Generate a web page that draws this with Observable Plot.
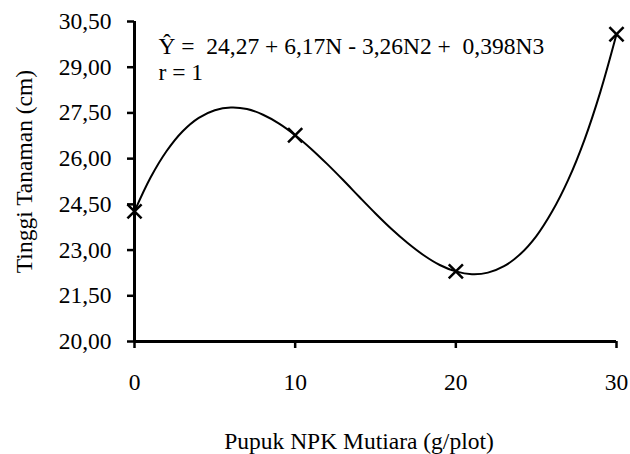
<!DOCTYPE html>
<html><head><meta charset="utf-8">
<script src="https://cdn.jsdelivr.net/npm/d3@7"></script>
<script src="https://cdn.jsdelivr.net/npm/@observablehq/plot@0.6"></script>
<style>
html,body{margin:0;padding:0;background:#fff}
svg text{font-family:"Liberation Serif","Times New Roman",serif !important; white-space:pre;}
</style>
</head><body><div id="chart"></div>
<script>
const dosis = [0, 10, 20, 30];
const tinggi = [24.27, 26.77, 22.30, 30.08];
const kurvaX = [0,1,2,3,4,5,6,7,8,9,10,11,12,13,14,15,16,17,18,19,20,21,22,23,24,25,26,27,28,29,30];
const kurvaY = [24.27,25.38,26.25,26.90,27.34,27.59,27.68,27.63,27.44,27.15,26.77,26.32,25.82,25.29,24.74,24.20,23.69,23.23,22.83,22.51,22.30,22.21,22.26,22.47,22.86,23.45,24.27,25.31,26.61,28.20,30.08];
const yTicks = [20, 21.5, 23, 24.5, 26, 27.5, 29, 30.5];
const xTicks = [0, 10, 20, 30];
const persamaan = "Ŷ =  24,27 + 6,17N - 3,26N2 +  0,398N3";
const koefisien = "r = 1";
const judulX = "Pupuk NPK Mutiara (g/plot)";
const judulY = "Tinggi Tanaman (cm)";

const titik = dosis.map((x, i) => ({x, y: tinggi[i]}));
const kurva = kurvaX.map((x, i) => ({x, y: kurvaY[i]}));
const fmt = d => d.toFixed(2).replace(".", ",");
const serif = "Liberation Serif";
const fs = 23.5;

const chart = Plot.plot({
  width: 630, height: 454,
  marginLeft: 134, marginRight: 14, marginTop: 21, marginBottom: 113,
  style: {fontFamily: "'Liberation Serif', 'Times New Roman', serif", fontSize: fs + "px", color: "#000", background: "#fff"},
  x: {domain: [0, 30]},
  y: {domain: [20, 30.5]},
  marks: [
    Plot.axisY({ticks: yTicks, tickFormat: fmt, tickSize: 7, tickPadding: 16, strokeWidth: 2.5, fontSize: fs, fontFamily: serif, label: null}),
    Plot.axisX({ticks: xTicks, tickFormat: d => String(d), tickSize: 7, tickPadding: 25, strokeWidth: 2.5, fontSize: fs, fontFamily: serif, label: null}),
    Plot.ruleX([0], {stroke: "#000", strokeWidth: 3}),
    Plot.ruleY([20], {stroke: "#000", strokeWidth: 3}),
    Plot.line(kurva, {x: "x", y: "y", curve: "catmull-rom", stroke: "#000", strokeWidth: 2}),
    Plot.dot(titik, {x: "x", y: "y", symbol: "times", r: 6.5, stroke: "#000", strokeWidth: 2.5}),
    Plot.text([persamaan], {frameAnchor: "top-left", dx: 24, dy: 24.5, lineAnchor: "middle", textAnchor: "start", fontSize: fs, fontFamily: serif, fill: "#000"}),
    Plot.text([koefisien], {frameAnchor: "top-left", dx: 24, dy: 51, lineAnchor: "middle", textAnchor: "start", fontSize: fs, fontFamily: serif, fill: "#000"}),
    Plot.text([judulX], {frameAnchor: "bottom", dx: -16.5, dy: 99.5, lineAnchor: "middle", textAnchor: "middle", fontSize: fs, fontFamily: serif, fill: "#000"}),
    Plot.text([judulY], {frameAnchor: "left", dx: -110.5, dy: -10, rotate: -90, lineAnchor: "middle", textAnchor: "middle", fontSize: fs, fontFamily: serif, fill: "#000"})
  ]
});
document.getElementById("chart").appendChild(chart);
</script>
</body></html>
